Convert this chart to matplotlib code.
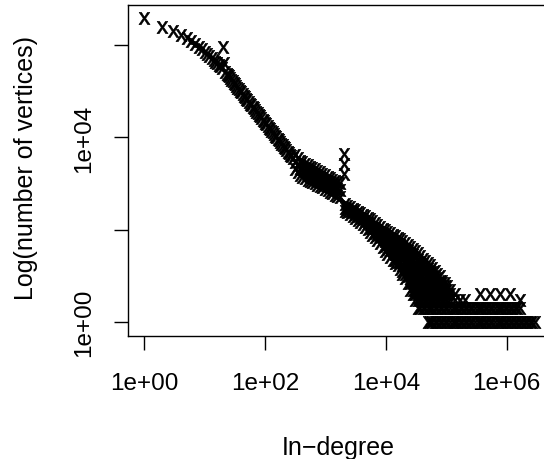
## in-degree distribution, log-log, R style with letter x markers

import matplotlib.pyplot as plt
import matplotlib.ticker as mticker

plt.rcParams['font.family'] = ['Liberation Sans', 'DejaVu Sans']
plt.rcParams['mathtext.fontset'] = 'custom'
plt.rcParams['mathtext.sf'] = 'Liberation Sans'
plt.rcParams['mathtext.rm'] = 'Liberation Sans'

# small degrees, one point each
head_deg = list(range(1, 26))
head_cnt = [3.89e6, 2.51e6, 2.0e6, 1.66e6, 1.41e6, 1.20e6, 1.05e6, 9.1e5, 8.1e5, 7.2e5,
            6.5e5, 5.9e5, 5.2e5, 4.8e5, 4.4e5, 4.1e5, 3.7e5, 3.5e5, 3.2e5, 8.9e5,
            4.2e5, 2.6e5, 2.4e5, 2.2e5, 2.1e5]

# straight part of the band
body_deg = [26.2, 27.5, 28.9, 30.3, 31.8, 33.3, 34.9, 36.6, 38.4, 40.3, 42.3, 44.3,
            46.5, 48.8, 51.1, 53.6, 56.3, 59.0, 61.9, 64.9, 68.1, 71.4, 74.9, 78.6,
            82.4, 86.4, 90.6, 95.0, 99.7, 104.5, 109.6, 115, 120.6, 126.5, 132.7,
            139.2, 145.9, 153.1, 160.6, 168.4, 176.6, 185.2, 194.3, 203.8, 213.7,
            224.1, 235.1, 246.6, 258.6, 271.2, 284.4]
body_cnt = [194000, 179000, 165500, 152800, 141100, 130200, 120300, 111000, 102500,
            94700, 87400, 80700, 74500, 68800, 63600, 58700, 54200, 50000, 46200,
            42700, 39400, 36400, 33600, 31000, 28600, 26400, 24400, 22500, 20800,
            19200, 17700, 16400, 15100, 14000, 12900, 11900, 11000, 10150, 9370,
            8650, 7990, 7380, 6810, 6290, 5810, 5360, 4950, 4570, 4220, 3900, 3600]

# flatter shoulder before the spike
shoulder_deg = [313, 344, 378, 416, 458, 504, 554, 609, 670, 737, 811, 892, 981,
                1080, 1188, 1306, 1437, 1580, 1738]
shoulder_cnt = [[4180, 2950, 2080], [3600, 2540, 1790], [3100, 2190, 1540],
                [2880, 2030, 1430], [2670, 1880, 1330], [2480, 1750, 1230],
                [2300, 1620, 1140], [2150, 1520, 1070], [2030, 1430, 1010],
                [1900, 1340, 947], [1790, 1260, 892], [1660, 1170, 828],
                [1540, 1090, 768], [1430, 1010, 713], [1330, 937, 661],
                [1230, 869, 614], [1140, 807, 569], [1090, 768, 542],
                [1040, 731, 516]]

spike_deg = [2000, 2000, 2000]
spike_cnt = [4400, 2700, 1650]

# tail, several counts per degree (counts of 1 and 2 further right are in the rows below)
tail_deg = [2100, 2310, 2550, 2800, 3080, 3390, 3730, 4100, 4510, 4960, 5460, 6000,
            6610, 7260, 7990, 8790, 9660, 10600, 11700, 12900, 14200, 15600, 17100,
            18800, 20700, 22800, 25100, 27600, 30300, 33400, 36700, 40400, 44400,
            48900, 53700, 59000, 65000, 71500, 78700, 86500, 95100, 104700, 115000,
            139000, 169000, 204000, 361000, 530000, 775000, 1130000, 1660000]
tail_cnt = [[364, 300, 257], [337, 285, 238], [313, 260, 221], [290, 240, 200],
            [270, 220, 181], [250, 203, 164], [232, 185, 148], [215, 168, 131],
            [200, 155, 116], [185, 138, 102], [172, 135, 110, 90], [156, 112, 79],
            [141, 110, 85, 70], [128, 98, 76, 60], [116, 90, 70, 52],
            [107, 82, 62, 43], [99, 75, 58, 45, 35], [92, 68, 50, 38, 30],
            [86, 64, 48, 36, 26], [79, 58, 43, 31, 22], [74, 55, 40, 30, 22, 19],
            [68, 50, 37, 27, 20, 17], [64, 48, 36, 27, 20, 14],
            [58, 43, 32, 23, 17, 13, 11], [52, 38, 28, 20, 15, 11, 9],
            [47, 35, 25, 18, 13, 10, 7], [43, 31, 22, 16, 12, 9, 7, 5],
            [39, 28, 20, 15, 11, 8, 6, 5, 4], [35, 25, 18, 13, 10, 8, 6, 5, 4, 3],
            [31, 22, 16, 12, 9, 7, 5, 4, 3, 2], [27, 20, 15, 11, 9, 7, 6, 5, 4, 3, 2],
            [24, 18, 13, 10, 8, 6, 5, 4, 3, 2], [21, 16, 12, 10, 8, 7, 6, 5, 4, 3],
            [19, 14, 11, 9, 7, 6, 5, 4, 3], [17, 13, 11, 9, 7, 6, 5, 4, 3],
            [15, 12, 9, 7, 6, 5, 4, 3], [13, 10, 8, 7, 6, 5, 4, 3],
            [11, 9, 7, 6, 5, 4, 3], [10, 8, 7, 6, 5, 4, 3], [8, 7, 6, 5, 4, 3],
            [7, 6, 5, 4, 3], [6, 5, 4, 3], [5, 4, 3], [4, 3], [3], [3],
            [4], [4], [4], [4], [3]]

# degrees held by exactly two / exactly one vertex
two_deg = [44400, 48900, 53700, 59000, 65000, 71500, 78700, 86500, 95100, 104700,
           115100, 126800, 139300, 153100, 168700, 185400, 204200, 224400, 246600,
           271600, 298500, 328900, 361400, 397200, 437500, 480800, 529600, 582100,
           639700, 704700, 774500, 851100, 937600, 1030000, 1135000, 1247000,
           1371000, 1510000, 1660000]
one_deg = [48900, 53700, 59000, 65000, 71500, 78700, 86500, 95100, 104700, 115100,
           126800, 139300, 153100, 168700, 185400, 204200, 224400, 246600, 271600,
           298500, 328900, 361400, 397200, 437500, 480800, 529600, 582100, 639700,
           704700, 774500, 851100, 937600, 1030000, 1135000, 1247000, 1371000,
           1510000, 1660000, 1824000, 2009000, 2208000, 2432000, 2673000, 2938000]

deg = head_deg + body_deg + spike_deg
cnt = head_cnt + body_cnt + spike_cnt
for d, cs in zip(shoulder_deg + tail_deg, shoulder_cnt + tail_cnt):
    for c in cs:
        deg.append(d)
        cnt.append(c)
deg += two_deg + one_deg
cnt += [2] * len(two_deg) + [1] * len(one_deg)

fig = plt.figure(figsize=(5.44, 4.6), dpi=100)
ax = fig.add_axes([128.3 / 544, 123 / 460, 419.7 / 544, 331 / 460])

ax.plot(deg, cnt, linestyle='none', marker='$\\mathsf{x}$', ms=8.8, mew=0.45,
        color='black')

ax.set_xscale('log')
ax.set_yscale('log')
ax.set_xlim(10 ** -0.265, 10 ** 6.684)
ax.set_ylim(10 ** -0.297, 10 ** 6.868)

ax.set_xticks([1, 1e2, 1e4, 1e6])
ax.set_xticklabels(['1e+00', '1e+02', '1e+04', '1e+06'])
ax.set_yticks([1, 1e2, 1e4, 1e6])
ax.set_yticklabels(['1e+00', '', '1e+04', ''], rotation=90, va='center')
ax.xaxis.set_minor_locator(mticker.NullLocator())
ax.yaxis.set_minor_locator(mticker.NullLocator())
ax.tick_params(length=10, width=1, direction='out', labelsize=17.5)
ax.tick_params(axis='x', pad=16)
ax.tick_params(axis='y', pad=14)

for s in ax.spines.values():
    s.set_linewidth(1)

ax.set_xlabel('In\u2212degree', fontsize=18)
ax.xaxis.set_label_coords(0.5, -0.299)
ax.set_ylabel('Log(number of vertices)', fontsize=18)
ax.yaxis.set_label_coords(-0.215, 0.51)

fig.savefig('out.png', dpi=100)
